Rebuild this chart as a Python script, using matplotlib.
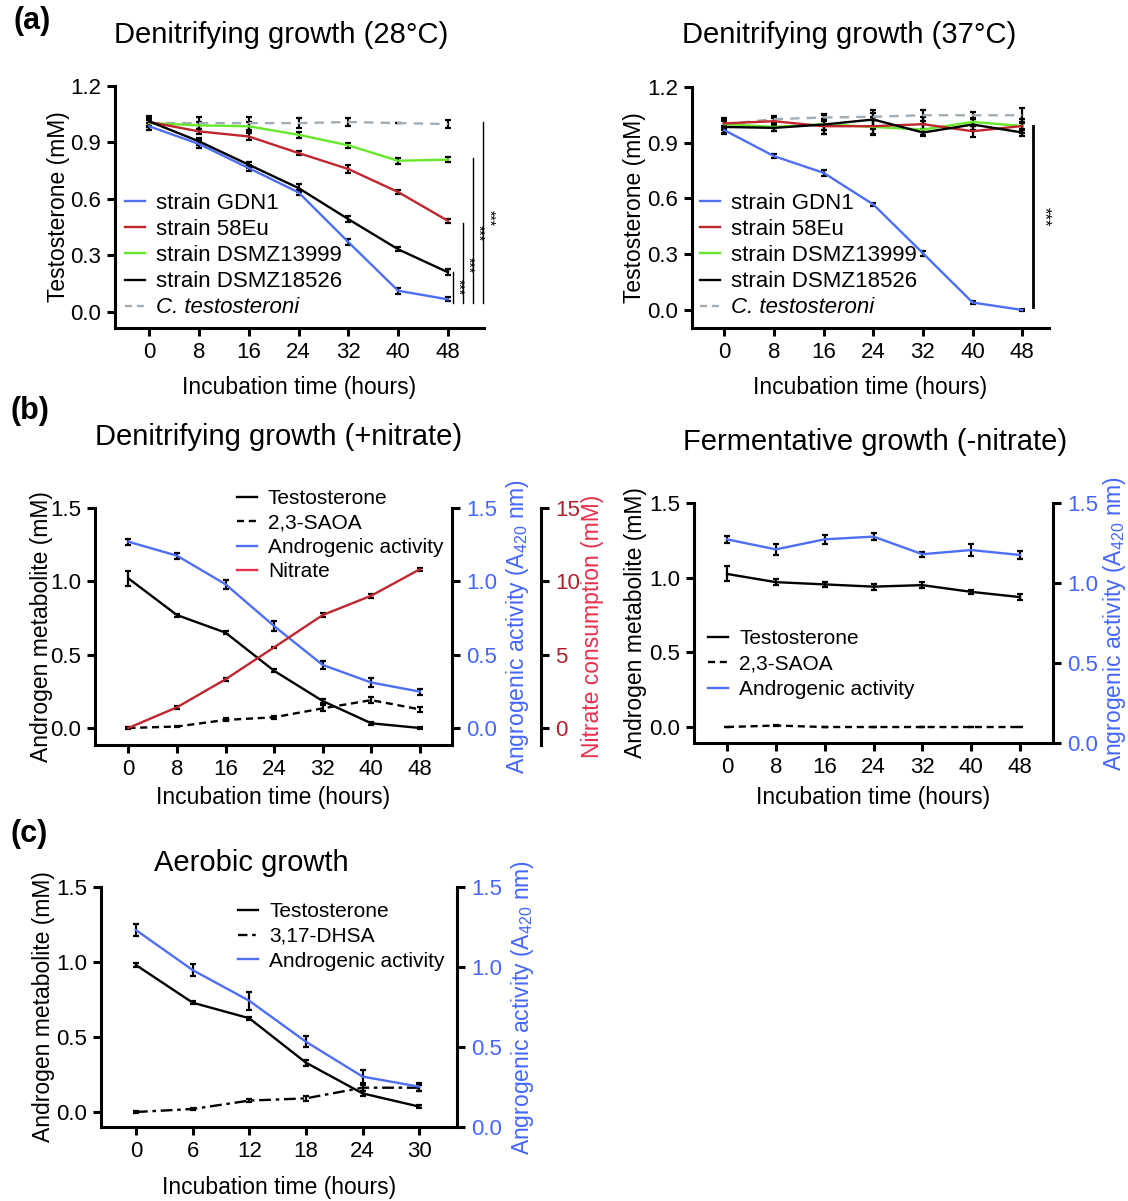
import matplotlib
matplotlib.use("Agg")
import matplotlib.pyplot as plt
from matplotlib.lines import Line2D

plt.rcParams['font.family'] = ['Liberation Sans', 'DejaVu Sans']
plt.rcParams['mathtext.fontset'] = 'custom'
plt.rcParams['mathtext.rm'] = 'Liberation Sans'
plt.rcParams['mathtext.it'] = 'Liberation Sans:italic'
plt.rcParams['mathtext.bf'] = 'Liberation Sans:bold'

# ---------------- data ----------------
hours_ab = [0, 8, 16, 24, 32, 40, 48]
hours_c = [0, 6, 12, 18, 24, 30]

strain_names = ["strain GDN1", "strain 58Eu", "strain DSMZ13999", "strain DSMZ18526", "C. testosteroni"]

# (a) 28 C testosterone (mM)
a28_gdn1 = [0.986, 0.892, 0.764, 0.635, 0.371, 0.113, 0.067]
a28_58eu = [1.009, 0.959, 0.932, 0.844, 0.759, 0.637, 0.484]
a28_13999 = [1.003, 0.991, 0.986, 0.941, 0.885, 0.803, 0.809]
a28_18526 = [1.012, 0.906, 0.782, 0.658, 0.493, 0.333, 0.211]
a28_ctest = [1.003, 1.003, 1.003, 1.003, 1.009, 1.003, 0.998]
a28_err_gdn1 = [0.02, 0.02, 0.015, 0.015, 0.015, 0.015, 0.01]
a28_err_58eu = [0.02, 0.015, 0.02, 0.01, 0.02, 0.01, 0.012]
a28_err_13999 = [0.015, 0.02, 0.025, 0.015, 0.012, 0.015, 0.015]
a28_err_18526 = [0.03, 0.02, 0.015, 0.02, 0.015, 0.01, 0.015]
a28_err_ctest = [0.02, 0.03, 0.035, 0.025, 0.02, 0.0, 0.02]

# (a) 37 C testosterone (mM)
a37_gdn1 = [0.968, 0.828, 0.738, 0.568, 0.305, 0.040, 0.0]
a37_58eu = [1.004, 1.016, 0.989, 0.989, 1.0, 0.962, 0.99]
a37_13999 = [1.0, 0.985, 1.0, 0.985, 0.971, 1.012, 0.99]
a37_18526 = [0.985, 0.98, 0.998, 1.025, 0.955, 0.998, 0.955]
a37_ctest = [1.0, 1.027, 1.036, 1.04, 1.048, 1.048, 1.048]
a37_err_gdn1 = [0.02, 0.01, 0.015, 0.01, 0.012, 0.008, 0.004]
a37_err_58eu = [0.03, 0.015, 0.04, 0.05, 0.04, 0.03, 0.04]
a37_err_13999 = [0.03, 0.02, 0.03, 0.04, 0.03, 0.02, 0.02]
a37_err_18526 = [0.03, 0.015, 0.05, 0.05, 0.02, 0.03, 0.02]
a37_err_ctest = [0.02, 0.015, 0.02, 0.02, 0.03, 0.02, 0.04]

# (b) denitrifying (+nitrate)
bn_testo = [1.02, 0.77, 0.65, 0.39, 0.184, 0.032, 0.0]
bn_saoa = [0.0, 0.01, 0.055, 0.073, 0.134, 0.19, 0.127]
bn_activity = [1.27, 1.175, 0.98, 0.695, 0.43, 0.31, 0.248]
bn_nitrate = [0.0, 1.41, 3.32, 5.5, 7.7, 9.02, 10.82]
bn_err_testo = [0.05, 0.01, 0.01, 0.01, 0.015, 0.01, 0.01]
bn_err_saoa = [0.005, 0.005, 0.01, 0.01, 0.02, 0.02, 0.015]
bn_err_activity = [0.02, 0.02, 0.03, 0.035, 0.025, 0.03, 0.02]
bn_err_nitrate = [0.0, 0.1, 0.1, 0.05, 0.15, 0.15, 0.12]

# (b) fermentative (-nitrate)
bf_testo = [1.025, 0.97, 0.955, 0.94, 0.95, 0.905, 0.87]
bf_saoa = [0.0, 0.01, 0.0, 0.0, 0.0, 0.0, 0.0]
bf_activity = [1.273, 1.21, 1.273, 1.29, 1.18, 1.206, 1.175]
bf_err_testo = [0.05, 0.02, 0.015, 0.02, 0.02, 0.012, 0.02]
bf_err_saoa = [0.0, 0.005, 0.0, 0.0, 0.0, 0.0, 0.0]
bf_err_activity = [0.02, 0.035, 0.03, 0.02, 0.015, 0.035, 0.025]

# (c) aerobic
c_testo = [0.98, 0.729, 0.625, 0.329, 0.124, 0.036]
c_dhsa = [0.0, 0.02, 0.076, 0.091, 0.162, 0.162]
c_activity = [1.231, 0.981, 0.789, 0.533, 0.315, 0.252]
c_err_testo = [0.015, 0.01, 0.01, 0.02, 0.015, 0.01]
c_err_dhsa = [0.005, 0.008, 0.01, 0.015, 0.02, 0.02]
c_err_activity = [0.035, 0.035, 0.055, 0.035, 0.04, 0.025]

# ---------------- style ----------------
BLUE = '#4d6ef5'
RED = '#c0262e'
GREEN = '#66e82a'
GRAY = '#a3adb5'
BLUE_TXT = '#4466ff'
RED_TICK = '#b01e2a'
RED_LBL = '#e8304e'
TICK_FS = 16
LAB_FS = 16.5
LEG_FS = 15
LEG_A_FS = 16
TITLE_FS = 21

W, H = 1128, 1201
fig = plt.figure(figsize=(W / 100, H / 100), dpi=100)


def px_axes(l, t, r, b):
    return fig.add_axes([l / W, 1 - b / H, (r - l) / W, (b - t) / H])


def style_ax(ax, right=False):
    for s in ['top', 'right'] if not right else ['top', 'left', 'bottom']:
        ax.spines[s].set_visible(False)
    for s in ax.spines.values():
        s.set_linewidth(2.2)
    ax.tick_params(direction='out', length=6, width=2.2, labelsize=TICK_FS, pad=4)
    ax.patch.set_alpha(0)


def eb(ax, x, y, e, color, dashes=None, lw=1.7):
    line = ax.errorbar(x, y, yerr=e, color=color, ecolor='black', elinewidth=1.6,
                       capsize=2.5, capthick=1.6, lw=lw, clip_on=False, zorder=3)
    if dashes is not None:
        line[0].set_dashes(dashes)
    return line


def fig_legend(ax, handles, labels, x, y, ls, fs=LEG_FS):
    leg = ax.legend(handles, labels, loc='upper left', bbox_to_anchor=(x / W, 1 - y / H),
                    bbox_transform=fig.transFigure, frameon=False, fontsize=fs,
                    handlelength=20 / (fs * 100 / 72), handletextpad=11 / (fs * 100 / 72),
                    labelspacing=ls, borderpad=0, borderaxespad=0)
    return leg


# ---------------- (a) 28 C ----------------
ax = px_axes(115, 86, 484, 328)
style_ax(ax)
ax.set_xlim(-5.5, 53.8)
ax.set_ylim(-0.085, 1.2)
ax.set_xticks(hours_ab)
ax.set_yticks([0.0, 0.3, 0.6, 0.9, 1.2])
ax.set_yticklabels(['0.0', '0.3', '0.6', '0.9', '1.2'])
eb(ax, hours_ab, a28_ctest, a28_err_ctest, GRAY, dashes=(4, 3))
eb(ax, hours_ab, a28_13999, a28_err_13999, GREEN)
eb(ax, hours_ab, a28_58eu, a28_err_58eu, RED)
eb(ax, hours_ab, a28_gdn1, a28_err_gdn1, BLUE)
eb(ax, hours_ab, a28_18526, a28_err_18526, 'black')
for xl, ytop, ys in [(48.8, 0.21, 0.13), (50.4, 0.47, 0.25), (52.0, 0.82, 0.42), (53.7, 1.01, 0.50)]:
    ax.plot([xl, xl], [0.05, ytop], color='black', lw=1.0, clip_on=False)
    ax.text(xl + 0.9, ys, '***', rotation=-90, ha='center', va='center', fontsize=10)
ax.set_ylabel('Testosterone (mM)', fontsize=LAB_FS)
ax.yaxis.set_label_coords(-0.121, 0.5)
ax.set_xlabel('Incubation time (hours)', fontsize=LAB_FS)
ax.xaxis.set_label_coords(0.5, -0.198)
hs = [Line2D([], [], color=BLUE, lw=1.7), Line2D([], [], color=RED, lw=1.7),
      Line2D([], [], color=GREEN, lw=1.7), Line2D([], [], color='black', lw=1.7),
      Line2D([], [], color=GRAY, lw=1.7, dashes=(3, 2))]
leg = fig_legend(ax, hs, strain_names, 125, 193, 0.23, LEG_A_FS)
leg.get_texts()[4].set_style('italic')

# ---------------- (a) 37 C ----------------
ax = px_axes(692, 87, 1049, 328)
style_ax(ax)
ax.set_xlim(-5.2, 52.3)
ax.set_ylim(-0.097, 1.2)
ax.set_xticks(hours_ab)
ax.set_yticks([0.0, 0.3, 0.6, 0.9, 1.2])
ax.set_yticklabels(['0.0', '0.3', '0.6', '0.9', '1.2'])
eb(ax, hours_ab, a37_ctest, a37_err_ctest, GRAY, dashes=(4, 3))
eb(ax, hours_ab, a37_13999, a37_err_13999, GREEN)
eb(ax, hours_ab, a37_58eu, a37_err_58eu, RED)
eb(ax, hours_ab, a37_18526, a37_err_18526, 'black')
eb(ax, hours_ab, a37_gdn1, a37_err_gdn1, BLUE)
ax.plot([49.8, 49.8], [0.016, 0.99], color='black', lw=2.0, clip_on=False)
ax.text(51.5, 0.5, '***', rotation=-90, ha='center', va='center', fontsize=12)
ax.set_ylabel('Testosterone (mM)', fontsize=LAB_FS)
ax.yaxis.set_label_coords(-0.130, 0.5)
ax.set_xlabel('Incubation time (hours)', fontsize=LAB_FS)
ax.xaxis.set_label_coords(0.5, -0.198)
leg = fig_legend(ax, hs, strain_names, 700, 193, 0.23, LEG_A_FS)
leg.get_texts()[4].set_style('italic')

# ---------------- (b) +nitrate ----------------
ax = px_axes(95, 508, 452, 745)
style_ax(ax)
ax.set_xlim(-5.5, 53.3)
ax.set_ylim(-0.116, 1.5)
ax.set_xticks(hours_ab)
ax.set_yticks([0.0, 0.5, 1.0, 1.5])
ax.set_yticklabels(['0.0', '0.5', '1.0', '1.5'])
ax.set_ylabel('Androgen metabolite (mM)', fontsize=LAB_FS)
ax.yaxis.set_label_coords(-0.118, 0.5)
ax.set_xlabel('Incubation time (hours)', fontsize=LAB_FS)
ax.xaxis.set_label_coords(0.5, -0.173)
eb(ax, hours_ab, bn_saoa, bn_err_saoa, 'black', dashes=(3, 2))
eb(ax, hours_ab, bn_testo, bn_err_testo, 'black')

axb = ax.twinx()
style_ax(axb, right=True)
axb.set_ylim(-0.116, 1.5)
axb.set_yticks([0.0, 0.5, 1.0, 1.5])
axb.set_yticklabels(['0.0', '0.5', '1.0', '1.5'])
axb.tick_params(axis='y', labelcolor=BLUE_TXT)
eb(axb, hours_ab, bn_activity, bn_err_activity, BLUE)
axb.set_ylabel('Angrogenic activity (A$_{420}$ nm)', fontsize=LAB_FS, color=BLUE_TXT)
axb.yaxis.set_label_coords(1.145, 0.5)

axr = ax.twinx()
style_ax(axr, right=True)
axr.spines['right'].set_position(('axes', 1.249))
axr.set_ylim(-1.16, 15)
axr.set_yticks([0, 5, 10, 15])
axr.tick_params(axis='y', labelcolor=RED_TICK)
eb(axr, hours_ab, bn_nitrate, bn_err_nitrate, RED)
axr.set_ylabel('Nitrate consumption (mM)', fontsize=LAB_FS, color=RED_LBL)
axr.yaxis.set_label_coords(1.36, 0.5)
hb = [Line2D([], [], color='black', lw=1.7), Line2D([], [], color='black', lw=1.7, dashes=(3, 2)),
      Line2D([], [], color=BLUE, lw=1.7), Line2D([], [], color='#e8304e', lw=1.7)]
fig_legend(axr, hb, ['Testosterone', '2,3-SAOA', 'Androgenic activity', 'Nitrate'], 237, 489, 0.26)

# ---------------- (b) -nitrate ----------------
ax = px_axes(694, 503, 1053, 743)
style_ax(ax)
ax.set_xlim(-5.4, 53.4)
ax.set_ylim(-0.107, 1.5)
ax.set_xticks(hours_ab)
ax.set_yticks([0.0, 0.5, 1.0, 1.5])
ax.set_yticklabels(['0.0', '0.5', '1.0', '1.5'])
ax.set_ylabel('Androgen metabolite (mM)', fontsize=LAB_FS)
ax.yaxis.set_label_coords(-0.131, 0.5)
ax.set_xlabel('Incubation time (hours)', fontsize=LAB_FS)
ax.xaxis.set_label_coords(0.5, -0.179)
eb(ax, hours_ab, bf_saoa, bf_err_saoa, 'black', dashes=(3, 2))
eb(ax, hours_ab, bf_testo, bf_err_testo, 'black')
axb = ax.twinx()
style_ax(axb, right=True)
axb.set_ylim(0, 1.5)
axb.set_yticks([0.0, 0.5, 1.0, 1.5])
axb.set_yticklabels(['0.0', '0.5', '1.0', '1.5'])
axb.tick_params(axis='y', labelcolor=BLUE_TXT)
eb(axb, hours_ab, bf_activity, bf_err_activity, BLUE)
axb.set_ylabel('Angrogenic activity (A$_{420}$ nm)', fontsize=LAB_FS, color=BLUE_TXT)
axb.yaxis.set_label_coords(1.133, 0.5)
fig_legend(axb, hb[:3], ['Testosterone', '2,3-SAOA', 'Androgenic activity'], 708, 629, 0.31)

# ---------------- (c) aerobic ----------------
ax = px_axes(101, 887, 457, 1127)
style_ax(ax)
ax.set_xlim(-3.7, 34.0)
ax.set_ylim(-0.1, 1.5)
ax.set_xticks(hours_c)
ax.set_yticks([0.0, 0.5, 1.0, 1.5])
ax.set_yticklabels(['0.0', '0.5', '1.0', '1.5'])
ax.set_ylabel('Androgen metabolite (mM)', fontsize=LAB_FS)
ax.yaxis.set_label_coords(-0.128, 0.5)
ax.set_xlabel('Incubation time (hours)', fontsize=LAB_FS)
ax.xaxis.set_label_coords(0.5, -0.204)
eb(ax, hours_c, c_dhsa, c_err_dhsa, 'black', dashes=(5, 2, 1.5, 2))
eb(ax, hours_c, c_testo, c_err_testo, 'black')
axb = ax.twinx()
style_ax(axb, right=True)
axb.set_ylim(0, 1.5)
axb.set_yticks([0.0, 0.5, 1.0, 1.5])
axb.set_yticklabels(['0.0', '0.5', '1.0', '1.5'])
axb.tick_params(axis='y', labelcolor=BLUE_TXT)
eb(axb, hours_c, c_activity, c_err_activity, BLUE)
axb.set_ylabel('Angrogenic activity (A$_{420}$ nm)', fontsize=LAB_FS, color=BLUE_TXT)
axb.yaxis.set_label_coords(1.146, 0.5)
hc = [Line2D([], [], color='black', lw=1.7), Line2D([], [], color='black', lw=1.7, dashes=(4, 2, 1.5, 2)),
      Line2D([], [], color=BLUE, lw=1.7)]
fig_legend(axb, hc, ['Testosterone', '3,17-DHSA', 'Androgenic activity'], 238, 902, 0.28)

# ---------------- titles & panel labels ----------------
def ftext(x, y, s, **kw):
    fig.text(x / W, 1 - y / H, s, ha='center', va='center', **kw)

ftext(281, 35, 'Denitrifying growth (28°C)', fontsize=TITLE_FS)
ftext(849, 35, 'Denitrifying growth (37°C)', fontsize=TITLE_FS)
ftext(279, 437, 'Denitrifying growth (+nitrate)', fontsize=TITLE_FS)
ftext(875, 442, 'Fermentative growth (-nitrate)', fontsize=TITLE_FS)
ftext(251, 863, 'Aerobic growth', fontsize=TITLE_FS)
ftext(32, 21, '(a)', fontsize=22, fontweight='bold')
ftext(30, 411, '(b)', fontsize=22, fontweight='bold')
ftext(29, 834, '(c)', fontsize=22, fontweight='bold')

fig.savefig('out.png', dpi=100, facecolor='white')
